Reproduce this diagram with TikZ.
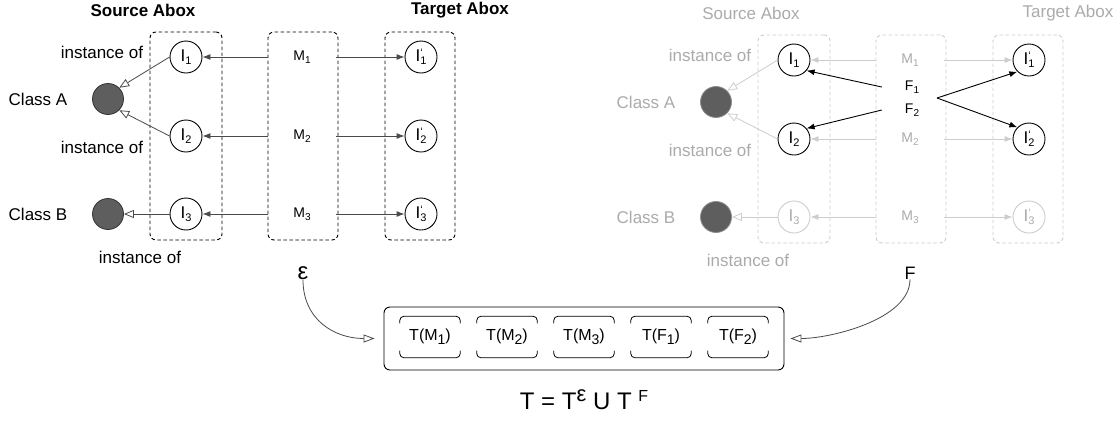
\documentclass[tikz,border=0pt]{standalone}
\usepackage{fontspec}
\setmainfont{Liberation Sans}
\usetikzlibrary{arrows.meta}
\definecolor{clsfill}{HTML}{5E5E5E}
\definecolor{arr}{HTML}{4A4A4A}
\definecolor{lg}{HTML}{CDCDCD}
\definecolor{lgt}{HTML}{ABABAB}
\newcommand\myfs[1]{\fontsize{#1}{#1}\selectfont}
\newcommand\isb[1]{\raisebox{-3.5pt}{\myfs{11}#1}}
\newcommand\isbp[1]{\raisebox{-3.5pt}{\vbox{\baselineskip=8pt\lineskiplimit=-100pt\hbox{\myfs{11}‘}\hbox{\myfs{11}#1}}}}
\newcommand\msb[1]{\raisebox{-2.5pt}{\myfs{10}#1}}
\newcommand\tsb[1]{\raisebox{-4pt}{\myfs{14}#1}}
\begin{document}
\begin{tikzpicture}[x=1pt,y=-1pt,
  txt/.style={inner sep=0pt,font=\myfs{17}},
  hdr/.style={inner sep=0pt,font=\bfseries\myfs{17}},
  inst/.style={circle,draw,line width=0.9pt,minimum size=32pt,inner sep=0pt,font=\myfs{17}},
  cls/.style={circle,draw=black!80,line width=0.8pt,fill=clsfill,minimum size=31pt,inner sep=0pt},
  mlab/.style={minimum width=68pt,inner sep=0pt,font=\myfs{14}},
  abox/.style={draw,line width=0.9pt,dash pattern=on 3.5pt off 2.5pt,rounded corners=6pt,minimum height=208pt,inner sep=0pt},
  mapar/.style={draw=arr,line width=0.9pt,-{Latex[length=8pt,width=6pt]}},
  isa/.style={draw=arr,line width=0.8pt,-{Triangle[length=10pt,width=8pt,fill=white]}},
  fpar/.style={draw=black,line width=0.9pt,-{Latex[length=8pt,width=6pt]}},
  tbox/.style={minimum width=60pt,minimum height=41pt,inner sep=0pt,font=\myfs{16}},
  brk/.style={draw,line width=0.8pt,rounded corners=4pt},
  curv/.style={draw=arr,line width=0.8pt,-{Triangle[length=11pt,width=8pt,fill=white]}}
]
\useasboundingbox (0,0) rectangle (1120,421);
\fill[white] (0,0) rectangle (1120,421);

% ===== Left panel =====
\node[hdr] (srcL) at (143,10) {Source Abox};
\node[hdr] (tgtL) at (460,10) {Target Abox};
\node[abox,minimum width=72pt] (sbL) at (186,136) {};
\node[abox,minimum width=70pt] (mbL) at (303,136) {};
\node[abox,minimum width=70pt] (tbL) at (420,136) {};
\node[inst] (i1L) at (186,57) {I\isb{1}};
\node[inst] (i2L) at (186,136) {I\isb{2}};
\node[inst] (i3L) at (186,214) {I\isb{3}};
\node[mlab] (m1L) at (302,57) {M\msb{1}};
\node[mlab] (m2L) at (302,136) {M\msb{2}};
\node[mlab] (m3L) at (302,214) {M\msb{3}};
\node[inst] (p1L) at (421,57) {I\isbp{1}};
\node[inst] (p2L) at (421,136) {I\isbp{2}};
\node[inst] (p3L) at (421,214) {I\isbp{3}};
\node[cls] (caL) at (108,99) {};
\node[cls] (cbL) at (108,214) {};
\node[txt] (calL) at (38,99) {Class A};
\node[txt] (cblL) at (38,214) {Class B};
\node[txt] (io1L) at (102,52) {instance of};
\node[txt] (io2L) at (102,147) {instance of};
\node[txt] (io3L) at (140,257) {instance of};
\draw[isa] (i1L.west) -- (caL.north east);
\draw[isa] (i2L.west) -- (caL.south east);
\draw[isa] (i3L.west) -- (cbL.east);
\draw[mapar] (m1L) -- (i1L);
\draw[mapar] (m2L) -- (i2L);
\draw[mapar] (m3L) -- (i3L);
\draw[mapar] (m1L) -- (p1L);
\draw[mapar] (m2L) -- (p2L);
\draw[mapar] (m3L) -- (p3L);

% ===== Right panel =====
\node[txt,text=lgt] (srcR) at (751,13) {Source Abox};
\node[txt,text=lgt] (tgtR) at (1068,13) {Target Abox};
\node[abox,draw=lg,minimum width=72pt] (sbR) at (794,139) {};
\node[abox,draw=lg,minimum width=70pt] (mbR) at (911,139) {};
\node[abox,draw=lg,minimum width=70pt] (tbR) at (1028,139) {};
\node[inst] (i1R) at (794,60) {I\isb{1}};
\node[inst] (i2R) at (794,139) {I\isb{2}};
\node[inst,draw=lg,text=lgt] (i3R) at (794,217) {I\isb{3}};
\node[mlab,text=lgt] (m1R) at (910,60) {M\msb{1}};
\node[mlab,text=lgt] (m2R) at (910,139) {M\msb{2}};
\node[mlab,text=lgt] (m3R) at (910,217) {M\msb{3}};
\node[inst] (p1R) at (1029,60) {I\isbp{1}};
\node[inst] (p2R) at (1029,139) {I\isbp{2}};
\node[inst,draw=lg,text=lgt] (p3R) at (1029,217) {I\isbp{3}};
\node[cls,draw=black!45] (caR) at (716,102) {};
\node[cls,draw=black!45] (cbR) at (716,217) {};
\node[txt,text=lgt] (calR) at (646,102) {Class A};
\node[txt,text=lgt] (cblR) at (646,217) {Class B};
\node[txt,text=lgt] (io1R) at (710,55) {instance of};
\node[txt,text=lgt] (io2R) at (710,150) {instance of};
\node[txt,text=lgt] (io3R) at (748,260) {instance of};
\draw[isa,draw=lg] (i1R.west) -- (caR.north east);
\draw[isa,draw=lg] (i2R.west) -- (caR.south east);
\draw[isa,draw=lg] (i3R.west) -- (cbR.east);
\draw[mapar,draw=lg] (m1R) -- (i1R);
\draw[mapar,draw=lg] (m2R) -- (i2R);
\draw[mapar,draw=lg] (m3R) -- (i3R);
\draw[mapar,draw=lg] (m1R) -- (p1R);
\draw[mapar,draw=lg] (m2R) -- (p2R);
\draw[mapar,draw=lg] (m3R) -- (p3R);
\node[mlab,minimum width=60pt] (f1R) at (912,87) {F\msb{1}};
\node[mlab,minimum width=60pt] (f2R) at (912,110) {F\msb{2}};
\coordinate (fx) at (937,98);
\draw[fpar] (f1R.west) -- (i1R.-40);
\draw[fpar] (f2R.west) -- (i2R.40);
\draw[fpar] (fx) -- (p1R.-135);
\draw[fpar] (fx) -- (p2R.135);

% ===== Bottom =====
\node[inner sep=0pt,font=\myfs{24}] (eps) at (303,273) {ε};
\node[inner sep=0pt,font=\myfs{18}] (fl) at (910,273) {F};
\node[draw,line width=0.9pt,rounded corners=6pt,minimum width=400pt,minimum height=63pt,inner sep=0pt] (big) at (584,338.5) {};
\node[tbox] (t1) at (430,337) {T(M\tsb{1})};
\node[tbox] (t2) at (507,337) {T(M\tsb{2})};
\node[tbox] (t3) at (584,337) {T(M\tsb{3})};
\node[tbox] (t4) at (661,337) {T(F\tsb{1})};
\node[tbox] (t5) at (738,337) {T(F\tsb{2})};
\foreach \t in {t1,t2,t3,t4,t5}{
  \draw[brk] ([yshift=-7pt]\t.north west) |- (\t.north east) -- ([yshift=-7pt]\t.north east);
  \draw[brk] ([yshift=7pt]\t.south west) |- (\t.south east) -- ([yshift=7pt]\t.south east);
}
\draw[curv] (eps.south) .. controls +(0,40) and +(-40,0) .. ([xshift=-9pt]big.west);
\draw[curv] (fl.south) .. controls +(0,40) and +(40,0) .. ([xshift=6pt]big.east);
\node[inner sep=0pt,font=\myfs{24}] (form) at (584,400) {T = T\raisebox{8pt}{\myfs{22}ε} U T \raisebox{8.5pt}{\myfs{16}F}};
\end{tikzpicture}
\end{document}
